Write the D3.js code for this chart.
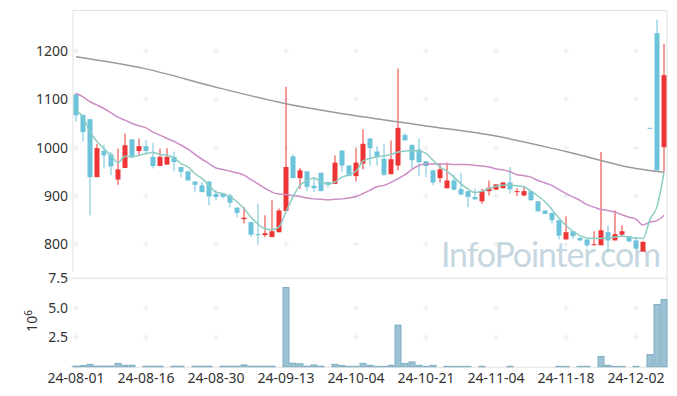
<!DOCTYPE html>
<html>
<head>
<meta charset="utf-8">
<script src="https://cdn.jsdelivr.net/npm/d3@7"></script>
<style>
  body { margin: 0; background: #fff; }
  svg { display: block; font-family: "Noto Sans", "DejaVu Sans", sans-serif; }
</style>
</head>
<body>
<svg id="chart" width="677" height="396"></svg>
<script>
// trading days, 24-08-01 .. 24-12-06
const dates = [
  "2024-08-01","2024-08-02","2024-08-05","2024-08-06","2024-08-07","2024-08-08","2024-08-09","2024-08-12","2024-08-13","2024-08-14",
  "2024-08-16","2024-08-19","2024-08-20","2024-08-21","2024-08-22","2024-08-23","2024-08-26","2024-08-27","2024-08-28","2024-08-29",
  "2024-08-30","2024-09-02","2024-09-03","2024-09-04","2024-09-05","2024-09-06","2024-09-09","2024-09-10","2024-09-11","2024-09-12",
  "2024-09-13","2024-09-19","2024-09-20","2024-09-23","2024-09-24","2024-09-25","2024-09-26","2024-09-27","2024-09-30","2024-10-02",
  "2024-10-04","2024-10-07","2024-10-08","2024-10-10","2024-10-11","2024-10-14","2024-10-15","2024-10-16","2024-10-17","2024-10-18",
  "2024-10-21","2024-10-22","2024-10-23","2024-10-24","2024-10-25","2024-10-28","2024-10-29","2024-10-30","2024-10-31","2024-11-01",
  "2024-11-04","2024-11-05","2024-11-06","2024-11-07","2024-11-08","2024-11-11","2024-11-12","2024-11-13","2024-11-14","2024-11-15",
  "2024-11-18","2024-11-19","2024-11-20","2024-11-21","2024-11-22","2024-11-25","2024-11-26","2024-11-27","2024-11-28","2024-11-29",
  "2024-12-02","2024-12-03","2024-12-04","2024-12-05","2024-12-06"
];

const opens = [
  1110,1068,1059,939,993,986,934,958,1017,993,
  1003,981,962,965,981,960,951,930,922,930,
  904,904,901,876,852,846,821,819,815,825,
  869,982,937,951,921,948,929,925,994,963,
  941,967,1019,992,977,945,963,1026,1006,996,
  972,953,937,916,932,914,910,898,889,910,
  913,916,928,909,901,910,889,870,865,850,
  810,827,813,810,799,798,825,808,820,817,
  808,785,1041,1237,1001
];
const highs = [
  1113,1068,1059,1008,1006,991,998,1029,1017,1019,
  1015,1010,998,999,992,960,951,930,929,930,
  912,904,905,876,877,846,884,860,891,874,
  1126,986,958,951,939,948,929,984,994,963,
  998,1038,1019,1003,1008,1015,1164,1030,1006,1019,
  972,953,967,969,944,948,910,915,915,932,
  924,928,960,916,919,910,889,870,865,850,
  858,827,815,810,827,991,839,870,839,817,
  815,807,1041,1265,1215
];
const lows = [
  1054,1013,860,939,957,943,923,958,978,984,
  986,957,962,965,951,939,932,908,908,881,
  891,895,876,856,843,815,799,815,815,825,
  869,937,915,910,908,910,918,925,950,941,
  930,955,963,963,941,945,953,1015,957,941,
  939,922,928,916,912,901,877,893,884,901,
  913,916,905,900,900,891,868,863,843,810,
  810,812,806,794,798,798,784,808,815,805,
  790,785,1041,953,950
];
const closes = [
  1067,1032,939,999,984,961,955,1005,982,1003,
  993,962,981,981,970,950,932,923,908,899,
  898,898,886,865,855,820,820,823,827,870,
  960,937,953,919,916,910,923,969,963,941,
  969,1008,999,981,944,976,1041,1015,974,970,
  962,928,955,932,913,903,898,893,910,917,
  924,928,914,910,910,891,868,863,850,818,
  825,817,808,798,800,829,808,821,827,806,
  791,805,1041,953,1150
];
// volume, millions of shares (0 = no visible bar)
const volumes = [
  0.05,0.1,0.2,0.05,0.05,0.05,0.28,0.12,0.12,0,
  0.04,0.04,0.04,0,0.04,0.04,0,0.04,0.04,0.04,
  0,0.04,0.04,0.04,0.15,0.04,0.04,0.04,0.04,0,
  6.72,0.3,0.25,0.04,0.15,0.04,0,0.2,0.1,0.03,
  0.03,0.28,0.12,0.03,0.03,0.12,3.53,0.28,0.4,0.12,
  0.03,0.12,0,0.03,0.03,0.03,0.03,0,0.03,0,
  0,0,0.03,0,0,0,0,0,0,0.03,
  0.03,0,0.03,0.03,0,0.87,0.12,0.03,0.03,0,
  0.03,0,1.03,5.28,5.7
];
// moving averages
const ma5 = [
  1077,1063,1032,1013,998,984,969,982,981,984,
  988,990,986,984,979,967,960,946,936,922,
  908,905,898,888,874,856,842,832,830,836,
  867,898,922,932,937,929,925,929,939,944,
  951,972,978,981,983,986,991,993,994,993,
  988,974,960,951,939,925,914,907,910,915,
  920,922,922,921,919,910,900,888,872,854,
  839,827,818,813,812,812,813,815,817,815,
  813,812,852,878,949
];
const ma20 = [
  1112,1105,1095,1088,1081,1072,1063,1057,1050,1045,
  1041,1032,1026,1019,1013,1005,997,986,976,967,
  958,955,951,948,943,934,925,916,908,904,
  903,901,899,896,894,893,892,893,894,896,
  899,905,912,919,922,928,936,944,955,963,
  966,966,966,966,965,965,965,963,962,960,
  956,954,950,944,942,939,932,927,922,913,
  905,898,891,882,877,872,870,867,861,856,
  852,840,846,849,860
];
const maLongDays = [0, 10, 20, 30, 40, 50, 60, 70, 80, 84];
const maLong = [1188, 1163, 1125, 1091, 1066, 1045, 1024, 992, 957, 949];

const priceTicks = [800, 900, 1000, 1100, 1200];
const volumeTicks = [2.5, 5.0, 7.5];
const dateTickIdx = [0, 10, 20, 30, 40, 50, 60, 70, 80];

const svg = d3.select("#chart");

const left = 73, right = 667;
const x = d3.scaleBand().domain(dates).range([72.5, 667.5]);
const cx = d => x(d) + x.bandwidth() / 2;
const y = d3.scaleLinear().domain([800, 1200]).range([244.3, 51]);
const yv = d3.scaleLinear().domain([0, 7.5]).range([366.7, 278.3]);

const frameColor = "#e0e0e0";
const crossColor = "#e8e8e8";

// frame
svg.append("line").attr("x1", left).attr("x2", right).attr("y1", 10.5).attr("y2", 10.5)
  .attr("stroke", frameColor);
svg.append("line").attr("x1", left).attr("x2", left).attr("y1", 10).attr("y2", 272)
  .attr("stroke", frameColor);
svg.append("line").attr("x1", right).attr("x2", right).attr("y1", 10).attr("y2", 367)
  .attr("stroke", frameColor);
svg.append("line").attr("x1", 71).attr("x2", right).attr("y1", yv(7.5)).attr("y2", yv(7.5))
  .attr("stroke", frameColor);
svg.append("line").attr("x1", 71).attr("x2", right).attr("y1", yv(0) + 0.5).attr("y2", yv(0) + 0.5)
  .attr("stroke", frameColor);

// "+" grid markers
function crosses(g, ys) {
  dateTickIdx.forEach(i => {
    ys.forEach(v => {
      const px = cx(dates[i]);
      g.append("path")
        .attr("d", `M${px - 3},${v}H${px + 3}M${px},${v - 3}V${v + 3}`)
        .attr("stroke", crossColor).attr("stroke-width", 1);
    });
  });
}
const grid = svg.append("g");
crosses(grid, priceTicks.map(y));
crosses(grid, [2.5, 5.0].map(yv));

// watermark
svg.append("text")
  .attr("x", 441).attr("y", 267)
  .attr("textLength", 220)
  .attr("font-size", 34)
  .attr("fill", "#c6d7e1")
  .attr("font-family", "Lato, 'Open Sans', sans-serif")
  .text("InfoPointer.com");

// candles
const upColor = "#ee3535", downColor = "#6cc3da";
const candles = svg.append("g");
dates.forEach((d, i) => {
  const up = closes[i] > opens[i];
  const col = up ? upColor : downColor;
  const px = cx(d);
  candles.append("line")
    .attr("x1", px).attr("x2", px)
    .attr("y1", y(highs[i])).attr("y2", y(lows[i]))
    .attr("stroke", col).attr("stroke-width", 1);
  const top = y(Math.max(opens[i], closes[i]));
  const bot = y(Math.min(opens[i], closes[i]));
  candles.append("rect")
    .attr("x", px - 2.5).attr("width", 5)
    .attr("y", top).attr("height", Math.max(1, bot - top))
    .attr("fill", col);
});

// moving averages
const maLine = d3.line()
  .x(d => cx(dates[d[0]]))
  .y(d => y(d[1]))
  .curve(d3.curveMonotoneX);
svg.append("path")
  .attr("d", maLine(maLongDays.map((d, k) => [d, maLong[k]])))
  .attr("fill", "none").attr("stroke", "#9a9a9a").attr("stroke-width", 1.5);
svg.append("path")
  .attr("d", maLine(ma20.map((v, i) => [i, v])))
  .attr("fill", "none").attr("stroke", "#cc8cc6").attr("stroke-width", 1.5);
svg.append("path")
  .attr("d", maLine(ma5.map((v, i) => [i, v])))
  .attr("fill", "none").attr("stroke", "#8bcdc2").attr("stroke-width", 1.5);

// volume bars
svg.append("g").selectAll("rect")
  .data(dates.map((d, i) => ({ d, v: volumes[i] })).filter(e => e.v > 0))
  .join("rect")
  .attr("x", e => x(e.d) + 0.5)
  .attr("width", x.bandwidth() - 1)
  .attr("y", e => yv(e.v))
  .attr("height", e => yv(0) - yv(e.v))
  .attr("fill", "#9cc2d3")
  .attr("stroke", "#7eadc3")
  .attr("stroke-width", 1);

// axis labels
const labelColor = "#333";
svg.append("g").selectAll("text").data(priceTicks).join("text")
  .attr("x", 68).attr("y", d => y(d)).attr("dy", "0.35em")
  .attr("text-anchor", "end").attr("font-size", 14).attr("fill", labelColor)
  .text(d => d);
svg.append("g").selectAll("text").data(volumeTicks).join("text")
  .attr("x", 68).attr("y", d => yv(d)).attr("dy", "0.35em")
  .attr("text-anchor", "end").attr("font-size", 14).attr("fill", labelColor)
  .text(d => d3.format(".1f")(d));
svg.append("g").selectAll("text").data(dateTickIdx).join("text")
  .attr("x", i => cx(dates[i])).attr("y", 383)
  .attr("text-anchor", "middle").attr("font-size", 14).attr("fill", labelColor)
  .text(i => dates[i].slice(2));

const expo = svg.append("text")
  .attr("transform", "translate(37,321) rotate(-90)")
  .attr("text-anchor", "middle").attr("font-size", 14).attr("fill", labelColor);
expo.append("tspan").text("10");
expo.append("tspan").attr("dy", -5).attr("font-size", 10).text("6");
</script>
</body>
</html>
